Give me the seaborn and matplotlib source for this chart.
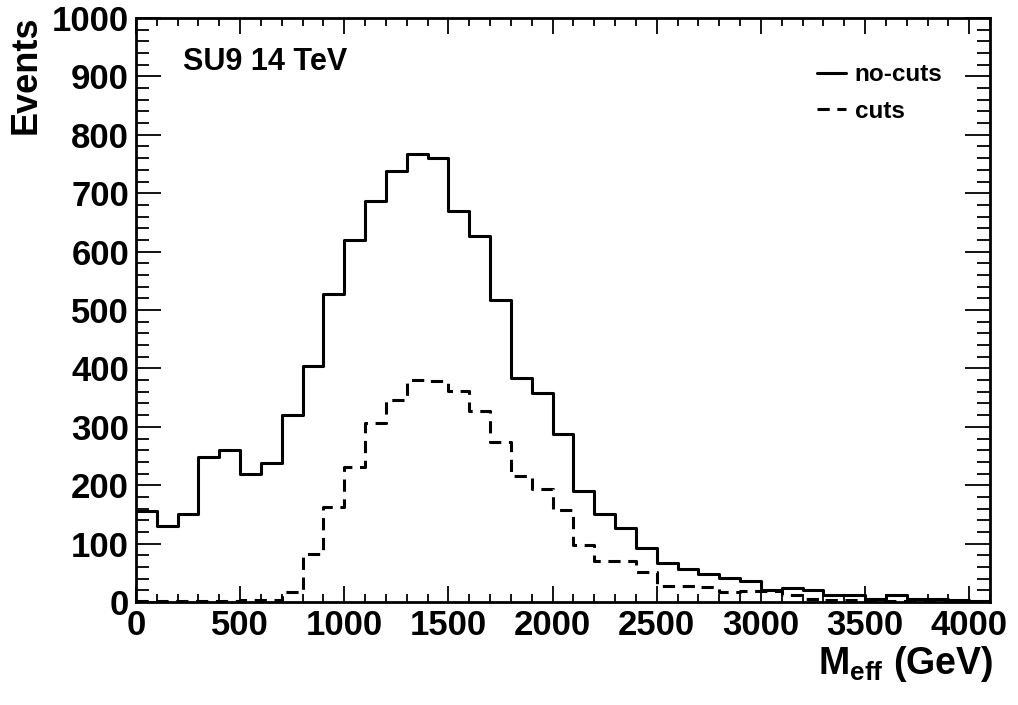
import numpy as np
import pandas as pd
import matplotlib
matplotlib.use("Agg")
import matplotlib.pyplot as plt
from matplotlib.lines import Line2D
from matplotlib.ticker import MultipleLocator
import seaborn as sns

# Datos: histograma de M_eff (bins de 100 GeV, 0 - 4100 GeV)
bin_lo = np.arange(0, 4100, 100)
no_cuts = [156, 130, 150, 249, 260, 220, 238, 321, 405, 528, 620, 686, 738, 767,
           760, 670, 627, 518, 383, 358, 288, 190, 150, 126, 92, 67, 56, 48, 41,
           36, 20, 24, 21, 12, 12, 5, 12, 5, 6, 3, 2]
cuts = [2, 1, 1, 1, 2, 3, 4, 18, 83, 163, 231, 306, 346, 380, 379, 362, 327,
        274, 215, 194, 157, 98, 70, 70, 52, 28, 27, 25, 18, 19, 19, 12, 5, 3, 3,
        1, 1, 1, 2, 0, 0]
labels = ['no-cuts', 'cuts']

df = pd.DataFrame({'meff': bin_lo + 50, 'no_cuts': no_cuts, 'cuts': cuts})

sns.set_theme(style='ticks')
plt.rcParams['font.family'] = ['Liberation Sans', 'DejaVu Sans']
plt.rcParams['font.weight'] = 'bold'
plt.rcParams['text.color'] = 'black'
plt.rcParams['axes.labelcolor'] = 'black'
plt.rcParams['mathtext.fontset'] = 'custom'
plt.rcParams['mathtext.rm'] = 'Liberation Sans:bold'
plt.rcParams['mathtext.bf'] = 'Liberation Sans:bold'
plt.rcParams['mathtext.default'] = 'bf'

fig = plt.figure(figsize=(10.18, 7.05), dpi=100)
ax = fig.add_axes([0.1336, 0.146, 0.8389, 0.8285])

sns.histplot(data=df, x='meff', weights='no_cuts', binwidth=100,
             binrange=(0, 4100), element='step', fill=False, color='black',
             linewidth=2.2, ax=ax)
sns.histplot(data=df, x='meff', weights='cuts', binwidth=100,
             binrange=(0, 4100), element='step', fill=False, color='black',
             linewidth=2.2, linestyle=(0, (4, 2.5)), ax=ax)

ax.set_xlim(0, 4100)
ax.set_ylim(0, 1000)
ax.xaxis.set_major_locator(MultipleLocator(500))
ax.xaxis.set_minor_locator(MultipleLocator(100))
ax.yaxis.set_major_locator(MultipleLocator(100))
ax.yaxis.set_minor_locator(MultipleLocator(20))

ax.tick_params(which='both', direction='in', top=True, right=True,
               labelsize=25, width=1.3, colors='black')
ax.tick_params(axis='x', which='major', length=11.5, pad=5)
ax.tick_params(axis='x', which='minor', length=5.8)
ax.tick_params(axis='y', which='major', length=18, pad=5)
ax.tick_params(axis='y', which='minor', length=9.4)
for lab in ax.get_xticklabels() + ax.get_yticklabels():
    lab.set_fontweight('bold')

for s in ax.spines.values():
    s.set_linewidth(2)
    s.set_color('black')

ax.set_ylabel('Events', fontsize=26, fontweight='bold', loc='top')
ax.yaxis.set_label_coords(-0.108, 1.005)
ax.set_xlabel(r'M$_{eff}$ (GeV)', fontsize=27, fontweight='bold', loc='right')
ax.xaxis.set_label_coords(1.004, -0.072)

ax.text(0.055, 0.925, 'SU9 14 TeV', transform=ax.transAxes, fontsize=22,
        fontweight='bold', ha='left', va='center')

handles = [Line2D([], [], color='black', lw=2.2),
           Line2D([], [], color='black', lw=2.2, linestyle=(0, (4, 2.5)))]
ax.legend(handles, labels, loc='upper left', bbox_to_anchor=(0.772, 0.96),
          frameon=False, handlelength=1.2, handletextpad=0.35,
          labelspacing=0.55, prop={'size': 17.5, 'weight': 'bold'})

fig.savefig('out.png', dpi=100)
